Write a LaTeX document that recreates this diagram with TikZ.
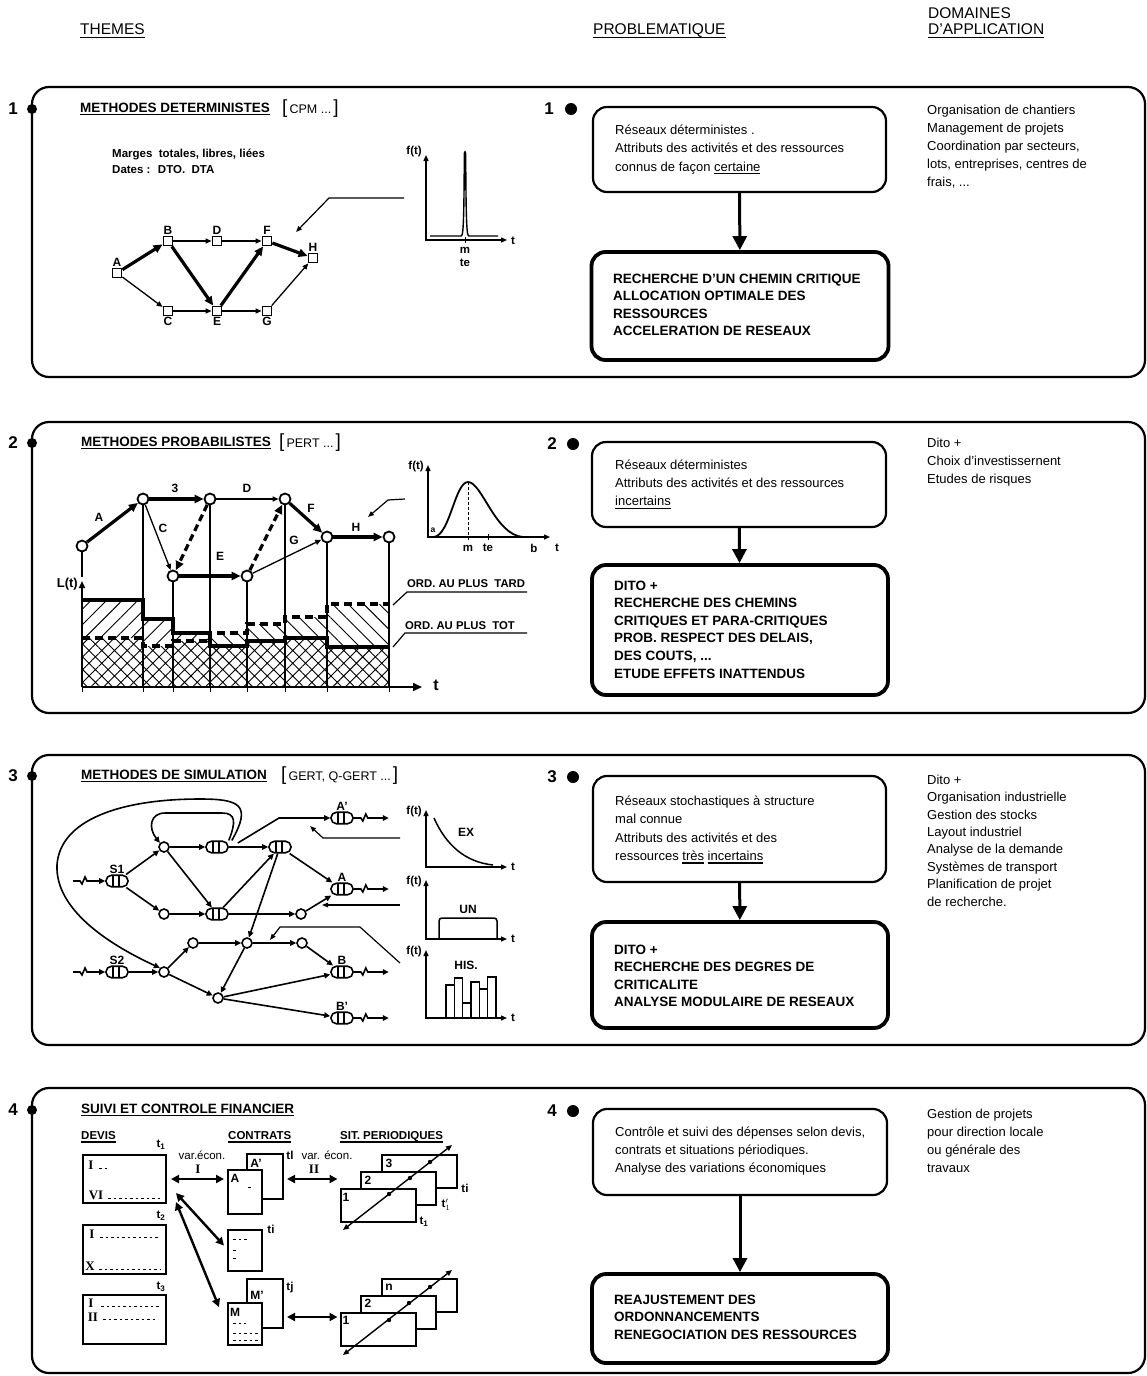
\documentclass[tikz,border=0pt]{standalone}
\usepackage{fontspec}
\setmainfont{Liberation Sans}
\newfontfamily\romanfont{Liberation Serif}
\usetikzlibrary{arrows.meta,positioning,patterns.meta,calc}

\newcommand\undl[1]{\setbox0=\hbox{#1}\rlap{\rule[-3pt]{\wd0}{1.3pt}}\box0\relax}
\newcommand\brk[1]{{\fontsize{19}{19}\selectfont[}\,#1\,{\fontsize{19}{19}\selectfont]}}
\newcommand\squig{-- ++(7,0) -- ++(2,3) -- ++(3,-7) -- ++(2,4)}

\tikzset{
  panel/.style={draw, line width=2.2pt, rounded corners=17pt},
  num/.style={font=\fontsize{17}{17}\selectfont\bfseries},
  head/.style={anchor=west, inner sep=0pt, font=\fontsize{15.5}{15.5}\selectfont},
  theme/.style={anchor=west, inner sep=0pt, font=\fontsize{13.5}{13.5}\selectfont\bfseries},
  sub/.style={anchor=west, inner sep=0pt, font=\fontsize{11.5}{11.5}\selectfont\bfseries},
  txt/.style={anchor=north west, inner sep=0pt, align=left, font=\fontsize{13}{18}\selectfont},
  capstxt/.style={anchor=north west, inner sep=0pt, align=left, font=\fontsize{13.5}{17.6}\selectfont\bfseries},
  probbox/.style={draw, line width=2.2pt, rounded corners=14pt},
  resbox/.style={draw, line width=3.8pt, rounded corners=14pt},
  downarr/.style={line width=3pt, -{Triangle[length=14pt,width=14pt]}},
  lbl/.style={font=\fontsize{12}{12}\selectfont\bfseries, inner sep=1pt},
  tiny/.style={font=\fontsize{11.5}{11.5}\selectfont\bfseries, inner sep=1pt},
  rom/.style={font=\romanfont\fontsize{13}{13}\selectfont\bfseries, inner sep=0pt},
  sq/.style={draw, line width=1.8pt, minimum size=9pt, inner sep=0pt, fill=white},
  pc/.style={circle, draw, line width=1.8pt, minimum size=11pt, inner sep=0pt, fill=white},
  nc/.style={circle, draw, line width=1.6pt, minimum size=10pt, inner sep=0pt, fill=white},
  queue/.style={draw, line width=1.6pt, rounded corners=5.5pt, minimum width=22pt,
    minimum height=11.5pt, inner sep=0pt, fill=white,
    path picture={\draw[line width=1.4pt]
      ([xshift=-4pt]path picture bounding box.north) -- ([xshift=-4pt]path picture bounding box.south)
      ([xshift=2pt]path picture bounding box.north) -- ([xshift=2pt]path picture bounding box.south);}},
  thinarr/.style={line width=1.3pt, -{Triangle[length=6pt,width=5pt]}},
  thickarr/.style={line width=3.2pt, -{Triangle[length=9pt,width=8pt]}},
  netarr/.style={line width=1.6pt, -{Triangle[length=6pt,width=5.5pt]}},
  callout/.style={line width=1.2pt, -{Triangle[length=6pt,width=4.5pt]}},
  axis/.style={line width=1.4pt, {Triangle[length=6pt,width=5pt]}-{Triangle[length=6pt,width=5pt]}},
  biarr/.style={line width=2.4pt, {Triangle[length=8pt,width=8pt]}-{Triangle[length=8pt,width=8pt]}},
  diag/.style={line width=1.4pt, {Triangle[length=6pt,width=5pt]}-{Triangle[length=6pt,width=5pt]}},
  page/.style={draw, line width=2pt, fill=white, inner sep=0pt},
  leader/.style={line width=0.9pt, dash pattern=on 2.5pt off 3pt},
  vl/.style={line width=1.1pt},
}

\begin{document}
\begin{tikzpicture}[x=1pt,y=-1pt]
\useasboundingbox (0,0) rectangle (1147,1376);

% column heads
\node[head] (hthemes) at (80,31) {\undl{THEMES}};
\node[head] (hprob) at (593,31) {\undl{PROBLEMATIQUE}};
\node[head] (hdom) at (928,13) {DOMAINES};
\node[head] (happ) at (928,31) {\undl{D'APPLICATION}};

% ===== 1 : methodes deterministes
\draw[panel] (32,87) rectangle (1145,377);
\fill (32,109) circle (5);
\node[num] (k1) at (13,109) {1};
\node[num] (k1b) at (549,109) {1};
\fill (571,109) circle (6);
\node[theme] (t1) at (80,109) {\undl{METHODES DETERMINISTES}};
\node[theme, font=\fontsize{12.5}{12.5}\selectfont] (t1b) at (282,109) {\brk{CPM ...}};
\node[txt, font=\fontsize{11.5}{16}\selectfont\bfseries] (marg) at (112,146) {\strut Marges\ \ totales, libres, liées\\Dates : \ DTO. \ DTA};

\node[sq, label={[lbl]above:A}] (cA) at (117,273) {};
\node[sq, label={[lbl]above:B}] (cB) at (168,241) {};
\node[sq, label={[lbl]above:D}] (cD) at (217,241) {};
\node[sq, label={[lbl]above:F}] (cF) at (267,241) {};
\node[sq, label={[lbl]above:H}] (cH) at (313,258) {};
\node[sq, label={[lbl]below:C}] (cC) at (168,311) {};
\node[sq, label={[lbl]below:E}] (cE) at (217,311) {};
\node[sq, label={[lbl]below:G}] (cG) at (267,311) {};
\draw[thickarr] (cA) -- (cB);
\draw[thinarr] (cA) -- (cC);
\draw[thinarr] (cB) -- (cD);
\draw[thinarr] (cD) -- (cF);
\draw[thickarr] (cF) -- (cH);
\draw[thickarr] (cB) -- (cE);
\draw[thinarr] (cC) -- (cE);
\draw[thickarr] (cE) -- (cF);
\draw[thinarr] (cE) -- (cG);
\draw[thinarr] (cG) -- (cH);

\coordinate (o1) at (426,240);
\draw[axis] (426,155) -- (o1) -- (507,240);
\node[tiny, anchor=east] (f1) at (423,152) {f(t)};
\node[tiny, anchor=west] (tt1) at (510,241) {t};
\draw[line width=1.4pt] (430,236) -- (461,236) .. controls (463,236) and (464,230) .. (464.3,154)
  .. controls (464.6,151) and (465.4,151) .. (465.7,154) .. controls (466,230) and (467,236) .. (469,236) -- (498,236);
\draw[line width=1pt] (465,237) -- (465,243);
\node[tiny] (m1) at (465,250) {m};
\node[tiny] (te1) at (465,263) {te};
\coordinate (g1) at (404,198);
\draw[callout] (g1) -- (329,198) -- (296,232);

\node[probbox, minimum width=293pt, minimum height=85pt] (pb1) at (739.5,149.5) {};
\node[txt, font=\fontsize{13}{18.5}\selectfont] (pb1t) at (615,121) {\strut Réseaux déterministes .\\Attributs des activités et des ressources\\connus de façon \undl{certaine}};
\node[resbox, minimum width=297pt, minimum height=108pt] (rb1) at (740,306) {};
\node[capstxt] (rb1t) at (613,270.5) {\strut RECHERCHE D'UN CHEMIN CRITIQUE\\ALLOCATION OPTIMALE DES\\RESSOURCES\\ACCELERATION DE RESEAUX};
\draw[downarr] (pb1) -- (rb1);
\node[txt] (dm1) at (927,102) {\strut Organisation de chantiers\\Management de projets\\Coordination par secteurs,\\lots, entreprises, centres de\\frais, ...};

% ===== 2 : methodes probabilistes
\draw[panel] (32,422) rectangle (1145,713);
\fill (32,443) circle (5);
\node[num] (k2) at (13,443) {2};
\node[num] (k2b) at (552,444) {2};
\fill (573,444) circle (6);
\node[theme] (t2) at (81,443) {\undl{METHODES PROBABILISTES}};
\node[theme, font=\fontsize{12.5}{12.5}\selectfont] (t2b) at (279,443) {\brk{PERT ...}};

% load chart
\coordinate (xa) at (82,687);
\fill[pattern={Hatch[angle=45,distance=9pt,line width=0.9pt]}] (xa) -- (82,638) -- (143,638) -- (143,646) -- (173,646)
  -- (173,641) -- (210,641) -- (210,646) -- (247,646) -- (247,641) -- (285,641) -- (285,638) -- (327,638)
  -- (327,647) -- (389,647) -- (389,687) -- cycle;
\fill[pattern={Lines[angle=45,distance=11pt,line width=0.9pt]}] (82,600) -- (143,600) -- (143,619) -- (173,619)
  -- (173,633) -- (210,633) -- (210,641) -- (173,641) -- (173,646) -- (143,646) -- (143,638) -- (82,638) -- cycle;
\fill[pattern={Lines[angle=-45,distance=11pt,line width=0.9pt]}] (210,633) -- (247,633) -- (247,624) -- (285,624)
  -- (285,617) -- (327,617) -- (327,604) -- (389,604) -- (389,647) -- (327,647) -- (327,638) -- (285,638)
  -- (285,641) -- (247,641) -- (247,646) -- (210,646) -- cycle;
\draw[line width=3.2pt] (82,600) -- (143,600) -- (143,619) -- (173,619) -- (173,633) -- (210,633) -- (210,646)
  -- (247,646) -- (247,641) -- (285,641) -- (285,638) -- (327,638) -- (327,647) -- (389,647);
\draw[line width=3.2pt, dash pattern=on 8pt off 5pt] (82,638) -- (143,638) -- (143,646) -- (173,646) -- (173,641)
  -- (210,641) -- (210,633) -- (247,633) -- (247,624) -- (285,624) -- (285,617) -- (327,617) -- (327,604) -- (389,604);
\draw[line width=1.5pt] (389,604) -- (389,687);
\draw[line width=1.6pt, -{Triangle[length=7pt,width=6pt]}] (xa) -- (82,581);
\draw[line width=1.6pt, -{Triangle[length=9pt,width=8pt]}] (xa) -- (422,687);
\foreach \x in {82,143,173,210,247,285,327,389} \draw[line width=1pt] (\x,687) -- (\x,692);
\node[font=\fontsize{16}{16}\selectfont\bfseries] (tax) at (436,685) {t};
\node[font=\fontsize{13}{13}\selectfont\bfseries, anchor=east, inner sep=0pt] (lt) at (78,584) {L(t)};

\node[pc] (p1) at (82,546) {};
\node[pc] (p2) at (143,499) {};
\node[pc] (p3) at (210,499) {};
\node[pc] (p4) at (173,576) {};
\node[pc] (p5) at (247,576) {};
\node[pc] (p6) at (285,499) {};
\node[pc] (p7) at (327,537) {};
\node[pc] (p8) at (389,537) {};
\draw[vl] (p1) -- (82,577);
\foreach \n in {p2,p3,p4,p5,p6,p7,p8} \draw[vl] (\n) -- (\n |- xa);
\draw[thickarr] (p1) -- (p2);
\draw[thickarr] (p2) -- (p3);
\draw[thinarr] (p2) -- (p4);
\draw[thickarr, dash pattern=on 7pt off 4pt] (p3) -- (p4);
\draw[thickarr] (p4) -- (p5);
\draw[thinarr] (p3) -- (p6);
\draw[thickarr, dash pattern=on 7pt off 4pt] (p5) -- (p6);
\draw[thickarr] (p6) -- (p7);
\draw[thinarr] (p5) -- (p7);
\draw[thickarr] (p7) -- (p8);
\node[lbl] (lA) at (99,517) {A};
\node[lbl] (l3) at (175,488) {3};
\node[lbl] (lC) at (163,528) {C};
\node[lbl] (lD) at (247,488) {D};
\node[lbl] (lE) at (220,556) {E};
\node[lbl] (lF) at (311,508) {F};
\node[lbl] (lG) at (294,540) {G};
\node[lbl] (lH) at (356,527) {H};

\node[tiny, anchor=west, font=\fontsize{11.3}{11.3}\selectfont\bfseries] (tard) at (406,584) {ORD. AU PLUS\ \ TARD};
\draw[line width=1.2pt] (393,605) -- (407,592) -- (527,592);
\node[tiny, anchor=west, font=\fontsize{11.3}{11.3}\selectfont\bfseries] (tot) at (404,626) {ORD. AU PLUS\ \ TOT};
\draw[line width=1.2pt] (393,647) -- (405,633) -- (527,633);

\draw[axis] (428,465) -- (428,537) -- (550,537);
\node[tiny, anchor=east] (f2) at (425,467) {f(t)};
\draw[line width=1.8pt] (434,537) .. controls (450,535) and (455,482) .. (468,482) .. controls (482,482) and (495,535) .. (523,537);
\draw[line width=0.8pt, dash pattern=on 3pt off 2pt] (468,482) -- (468,541);
\draw[line width=1pt] (488,534) -- (488,540);
\node[font=\fontsize{8.5}{8.5}\selectfont\bfseries, inner sep=0pt] (a2) at (433,530) {a};
\node[tiny] (m2) at (468,548) {m};
\node[tiny] (te2) at (488,548) {te};
\node[tiny] (b2) at (534,548) {b};
\node[tiny] (tt2) at (557,548) {t};
\coordinate (g2) at (405,499);
\draw[callout] (g2) -- (388,500) -- (368,517);

\node[probbox, minimum width=294pt, minimum height=85pt] (pb2) at (739,484.5) {};
\node[txt] (pb2t) at (615,457) {\strut Réseaux déterministes\\Attributs des activités et des ressources\\\undl{incertains}};
\node[resbox, minimum width=296pt, minimum height=130pt] (rb2) at (740,630) {};
\node[capstxt] (rb2t) at (614,577.5) {\strut DITO +\\RECHERCHE DES CHEMINS\\CRITIQUES ET PARA-CRITIQUES\\PROB. RESPECT DES DELAIS,\\DES COUTS, ...\\ETUDE EFFETS INATTENDUS};
\draw[downarr] (pb2) -- (rb2);
\node[txt] (dm2) at (927,435) {\strut Dito +\\Choix d'investissernent\\Etudes de risques};

% ===== 3 : methodes de simulation
\draw[panel] (32,755) rectangle (1145,1045);
\fill (32,776) circle (5);
\node[num] (k3) at (13,776) {3};
\node[num] (k3b) at (552,777) {3};
\fill (573,777) circle (6);
\node[theme] (t3) at (81,776) {\undl{METHODES DE SIMULATION}};
\node[theme, font=\fontsize{12.5}{12.5}\selectfont] (t3b) at (281,776) {\brk{GERT, Q-GERT ...}};

\node[queue, label={[lbl]above:S1}] (s1) at (117,881) {};
\node[queue, label={[lbl]above:S2}] (s2) at (117,972) {};
\node[nc] (c1) at (164,847) {};
\node[nc] (c2) at (164,914) {};
\node[queue] (q1) at (217,847) {};
\node[queue] (q2) at (217,914) {};
\node[queue] (q3) at (280,847) {};
\node[nc] (c3) at (301,914) {};
\node[nc] (c4) at (193,943) {};
\node[nc] (c5) at (247,943) {};
\node[nc] (c6) at (302,943) {};
\node[nc] (c7) at (164,972) {};
\node[nc] (c8) at (218,998) {};
\node[queue, label={[lbl]above:A'}] (oAp) at (342,818) {};
\node[queue, label={[lbl]above:A}] (oA) at (342,889) {};
\node[queue, label={[lbl]above:B}] (oB) at (342,972) {};
\node[queue, label={[lbl]above:B'}] (oBp) at (342,1018) {};

\coordinate (in1) at (73,881);
\coordinate (in2) at (73,972);
\draw[netarr] (in1) \squig -- (s1);
\draw[netarr] (in2) \squig -- (s2);
\foreach \o in {oAp,oA,oB,oBp} \draw[netarr] (\o.east) \squig -- ++(21,0);

\draw[netarr] (s1) -- (c1);
\draw[netarr] (s1) -- (c2);
\draw[netarr] (c1) -- (q1);
\draw[netarr] (c1) -- (q2);
\draw[netarr] (c2) -- (q2);
\draw[netarr] (q1) -- (q3);
\draw[netarr] (q2) -- (q3);
\draw[netarr] (q2) -- (c3);
\draw[netarr] (q3) -- (oA);
\draw[netarr] (c3) -- (oA);
\draw[netarr] (q3) -- (c5);
\draw[netarr] (c4) -- (c5);
\draw[netarr] (c5) -- (c6);
\draw[netarr] (c6) -- (oB);
\draw[netarr] (c5) -- (c8);
\draw[netarr] (c7) -- (c4);
\draw[netarr] (c7) -- (c8);
\draw[netarr] (s2) -- (c7);
\draw[netarr] (c8) -- (oB);
\draw[netarr] (c8) -- (oBp);
\draw[netarr] ([xshift=9pt,yshift=4pt]q1.east) -- (279,818) -- (oAp);
\draw[netarr] (q1.north east) .. controls (236,822) and (236,813) .. (222,813) -- (165,813)
  .. controls (150,813) and (148,828) .. (c1.north west);
\draw[netarr] ([xshift=3pt]q1.north east) .. controls (252,805) and (240,799) .. (200,799)
  .. controls (120,799) and (60,820) .. (57,865) .. controls (55,910) and (110,945) .. (c7.north west);

% distributions
\draw[axis] (426,810) -- (426,867) -- (507,867);
\node[tiny, anchor=east] (f3a) at (423,812) {f(t)};
\node[tiny, anchor=west] (t3a) at (510,867) {t};
\draw[line width=1.5pt] (434,818) .. controls (446,845) and (465,862) .. (493,865);
\node[lbl] (lex) at (466,832) {EX};
\draw[axis] (426,880) -- (426,939) -- (507,939);
\node[tiny, anchor=east] (f3b) at (423,882) {f(t)};
\node[tiny, anchor=west] (t3b2) at (510,939) {t};
\draw[line width=1.5pt, rounded corners=3pt] (439,939) -- (439,918) -- (497,918) -- (497,939);
\node[lbl] (lun) at (468,909) {UN};
\draw[axis] (426,950) -- (426,1018) -- (507,1018);
\node[tiny, anchor=east] (f3c) at (423,952) {f(t)};
\node[tiny, anchor=west] (t3c) at (510,1018) {t};
\foreach \h [count=\i] in {985,978,1003,982,989,977}
  \draw[line width=1.3pt] ({446+(\i-1)*8.33},1018) rectangle ({446+\i*8.33},\h);
\node[lbl] (lhis) at (466,965) {HIS.};
\coordinate (g3a) at (400,838);
\coordinate (g3b) at (400,905);
\coordinate (g3c) at (400,963);
\draw[callout] (g3a) -- (323,838) -- (310,826);
\draw[callout] (g3b) -- (322,905);
\draw[callout] (g3c) -- (360,927) -- (280,927) -- (270,940);

\node[probbox, minimum width=293pt, minimum height=106pt] (pb3) at (739.5,829) {};
\node[txt, font=\fontsize{13}{18.5}\selectfont] (pb3t) at (615,792) {\strut Réseaux stochastiques à structure\\mal connue\\Attributs des activités et des\\ressources \undl{très} \undl{incertains}};
\node[resbox, minimum width=296pt, minimum height=106pt] (rb3) at (740,975) {};
\node[capstxt] (rb3t) at (614,941.5) {\strut DITO +\\RECHERCHE DES DEGRES DE\\CRITICALITE\\ANALYSE MODULAIRE DE RESEAUX};
\draw[downarr] (pb3) -- (rb3);
\node[txt, font=\fontsize{13}{17.4}\selectfont] (dm3) at (927,772) {\strut Dito +\\Organisation industrielle\\Gestion des stocks\\Layout industriel\\Analyse de la demande\\Systèmes de transport\\Planification de projet\\de recherche.};

% ===== 4 : suivi financier
\draw[panel] (32,1088) rectangle (1145,1373);
\fill (32,1110) circle (5);
\node[num] (k4) at (13,1110) {4};
\node[num] (k4b) at (552,1111) {4};
\fill (573,1111) circle (6);
\node[theme] (t4) at (81,1110) {\undl{SUIVI ET CONTROLE FINANCIER}};
\node[sub] (hdev) at (81,1137) {\undl{DEVIS}};
\node[sub] (hcon) at (228,1137) {\undl{CONTRATS}};
\node[sub] (hsit) at (340,1137) {\undl{SIT. PERIODIQUES}};

% devis
\node[page, minimum width=83pt, minimum height=48pt] (dv1) at (124.5,1179) {};
\node[page, minimum width=83pt, minimum height=49pt] (dv2) at (124.5,1249.5) {};
\node[page, minimum width=83pt, minimum height=49pt] (dv3) at (124.5,1319.5) {};
\node[rom] (r11) at (91,1165) {I};
\draw[leader] (99,1168) -- (110,1168);
\node[rom] (r12) at (96,1195) {VI};
\draw[leader] (108,1198) -- (160,1198);
\node[rom] (r21) at (92,1234) {I};
\draw[leader] (100,1237) -- (160,1237);
\node[rom] (r22) at (90,1266) {X};
\draw[leader] (99,1269) -- (160,1269);
\node[rom] (r31) at (91,1303) {I};
\draw[leader] (101,1306) -- (160,1306);
\node[rom] (r32) at (93,1317) {II};
\draw[leader] (103,1319) -- (158,1319);
\node[tiny] (td1) at (161,1145) {t\textsubscript{1}};
\node[tiny] (td2) at (161,1216) {t\textsubscript{2}};
\node[tiny] (td3) at (161,1287) {t\textsubscript{3}};

% contrats
\node[page, minimum width=36pt, minimum height=45pt] (ca2) at (265,1176.5) {};
\node[page, minimum width=34pt, minimum height=44pt] (ca1) at (245,1192) {};
\node[lbl] (lAp4) at (256,1163) {A'};
\node[lbl] (lA4) at (235,1178) {A};
\draw[leader] (248,1187) -- (252,1187);
\node[tiny] (ttl) at (290,1155) {tl};
\node[page, minimum width=34pt, minimum height=41pt] (cc) at (245,1250.5) {};
\draw[leader] (233,1239) -- (247,1239);
\draw[leader] (233,1250) -- (236,1250);
\draw[leader] (233,1258) -- (236,1258);
\node[tiny] (tti) at (271,1229) {ti};
\node[page, minimum width=36pt, minimum height=49pt] (cm2) at (265,1303.5) {};
\node[page, minimum width=34pt, minimum height=42pt] (cm1) at (245,1324) {};
\node[lbl] (lMp) at (257,1295) {M'};
\node[lbl] (lM) at (235,1312) {M};
\draw[leader] (233,1323) -- (246,1323);
\draw[leader] (233,1333) -- (258,1333);
\draw[leader] (233,1340) -- (258,1340);
\node[tiny] (ttj) at (290,1288) {tj};

% situations periodiques
\node[page, minimum width=75pt, minimum height=33pt] (sa3) at (419,1171) {};
\node[page, minimum width=75pt, minimum height=33pt] (sa2) at (398.5,1188) {};
\node[page, minimum width=75pt, minimum height=33pt] (sa1) at (378,1205) {};
\node[lbl] (ls3) at (389,1163) {3};
\node[lbl] (ls2) at (368,1180) {2};
\node[lbl] (ls1) at (346,1197) {1};
\coordinate (da1) at (343,1230);
\coordinate (da2) at (452,1145);
\draw[diag] (da1) -- (da2);
\foreach \p in {(389,1194),(410,1178),(430,1162)} \fill \p circle (2.2);
\node[tiny] (tsa3) at (465,1188) {ti};
\node[tiny] (tsa2) at (446,1205) {t$'_{1}$};
\node[tiny] (tsa1) at (424,1222) {t\textsubscript{1}};

\node[page, minimum width=75pt, minimum height=33pt] (sb3) at (419,1295.5) {};
\node[page, minimum width=75pt, minimum height=33pt] (sb2) at (398.5,1312) {};
\node[page, minimum width=75pt, minimum height=33pt] (sb1) at (378,1329) {};
\node[lbl] (lsn) at (389,1287) {n};
\node[lbl] (lsb2) at (368,1303) {2};
\node[lbl] (lsb1) at (346,1320) {1};
\coordinate (db1) at (343,1355);
\coordinate (db2) at (452,1270);
\draw[diag] (db1) -- (db2);
\foreach \p in {(389,1320),(409,1303),(430,1287)} \fill \p circle (2.2);

% links
\draw[biarr] ([xshift=4pt]dv1.east) -- ([xshift=-3pt,yshift=13pt]ca1.west);
\draw[biarr] ([xshift=3pt,yshift=-2.5pt]ca2.east) -- ([xshift=-2pt,yshift=26pt]sa1.west);
\draw[biarr] ([xshift=9pt,yshift=-14pt]dv1.east) -- ([xshift=-3pt,yshift=5pt]cc.west);
\draw[biarr] ([xshift=9pt,yshift=-23pt]dv1.east) -- ([xshift=-8pt,yshift=-5pt]cm1.north west);
\draw[biarr] ([xshift=3pt,yshift=-13.5pt]cm2.east) -- ([xshift=-2pt,yshift=12pt]sb1.west);
\node[font=\fontsize{11.5}{11.5}\selectfont, inner sep=0pt] (ve1) at (202,1155) {var.écon.};
\node[rom] (vr1) at (198,1169) {I};
\node[font=\fontsize{11.5}{11.5}\selectfont, inner sep=0pt] (ve2) at (327,1155) {var. écon.};
\node[rom] (vr2) at (314,1169) {II};

\node[probbox, minimum width=294pt, minimum height=86pt] (pb4) at (740,1152) {};
\node[txt] (pb4t) at (615,1124) {\strut Contrôle et suivi des dépenses selon devis,\\contrats et situations périodiques.\\Analyse des variations économiques};
\node[resbox, minimum width=296pt, minimum height=89pt] (rb4) at (740,1318.5) {};
\node[capstxt] (rb4t) at (614,1291.5) {\strut REAJUSTEMENT DES\\ORDONNANCEMENTS\\RENEGOCIATION DES RESSOURCES};
\draw[downarr] (pb4) -- (rb4);
\node[txt] (dm4) at (927,1106) {\strut Gestion de projets\\pour direction locale\\ou générale des\\travaux};
\end{tikzpicture}
\end{document}
